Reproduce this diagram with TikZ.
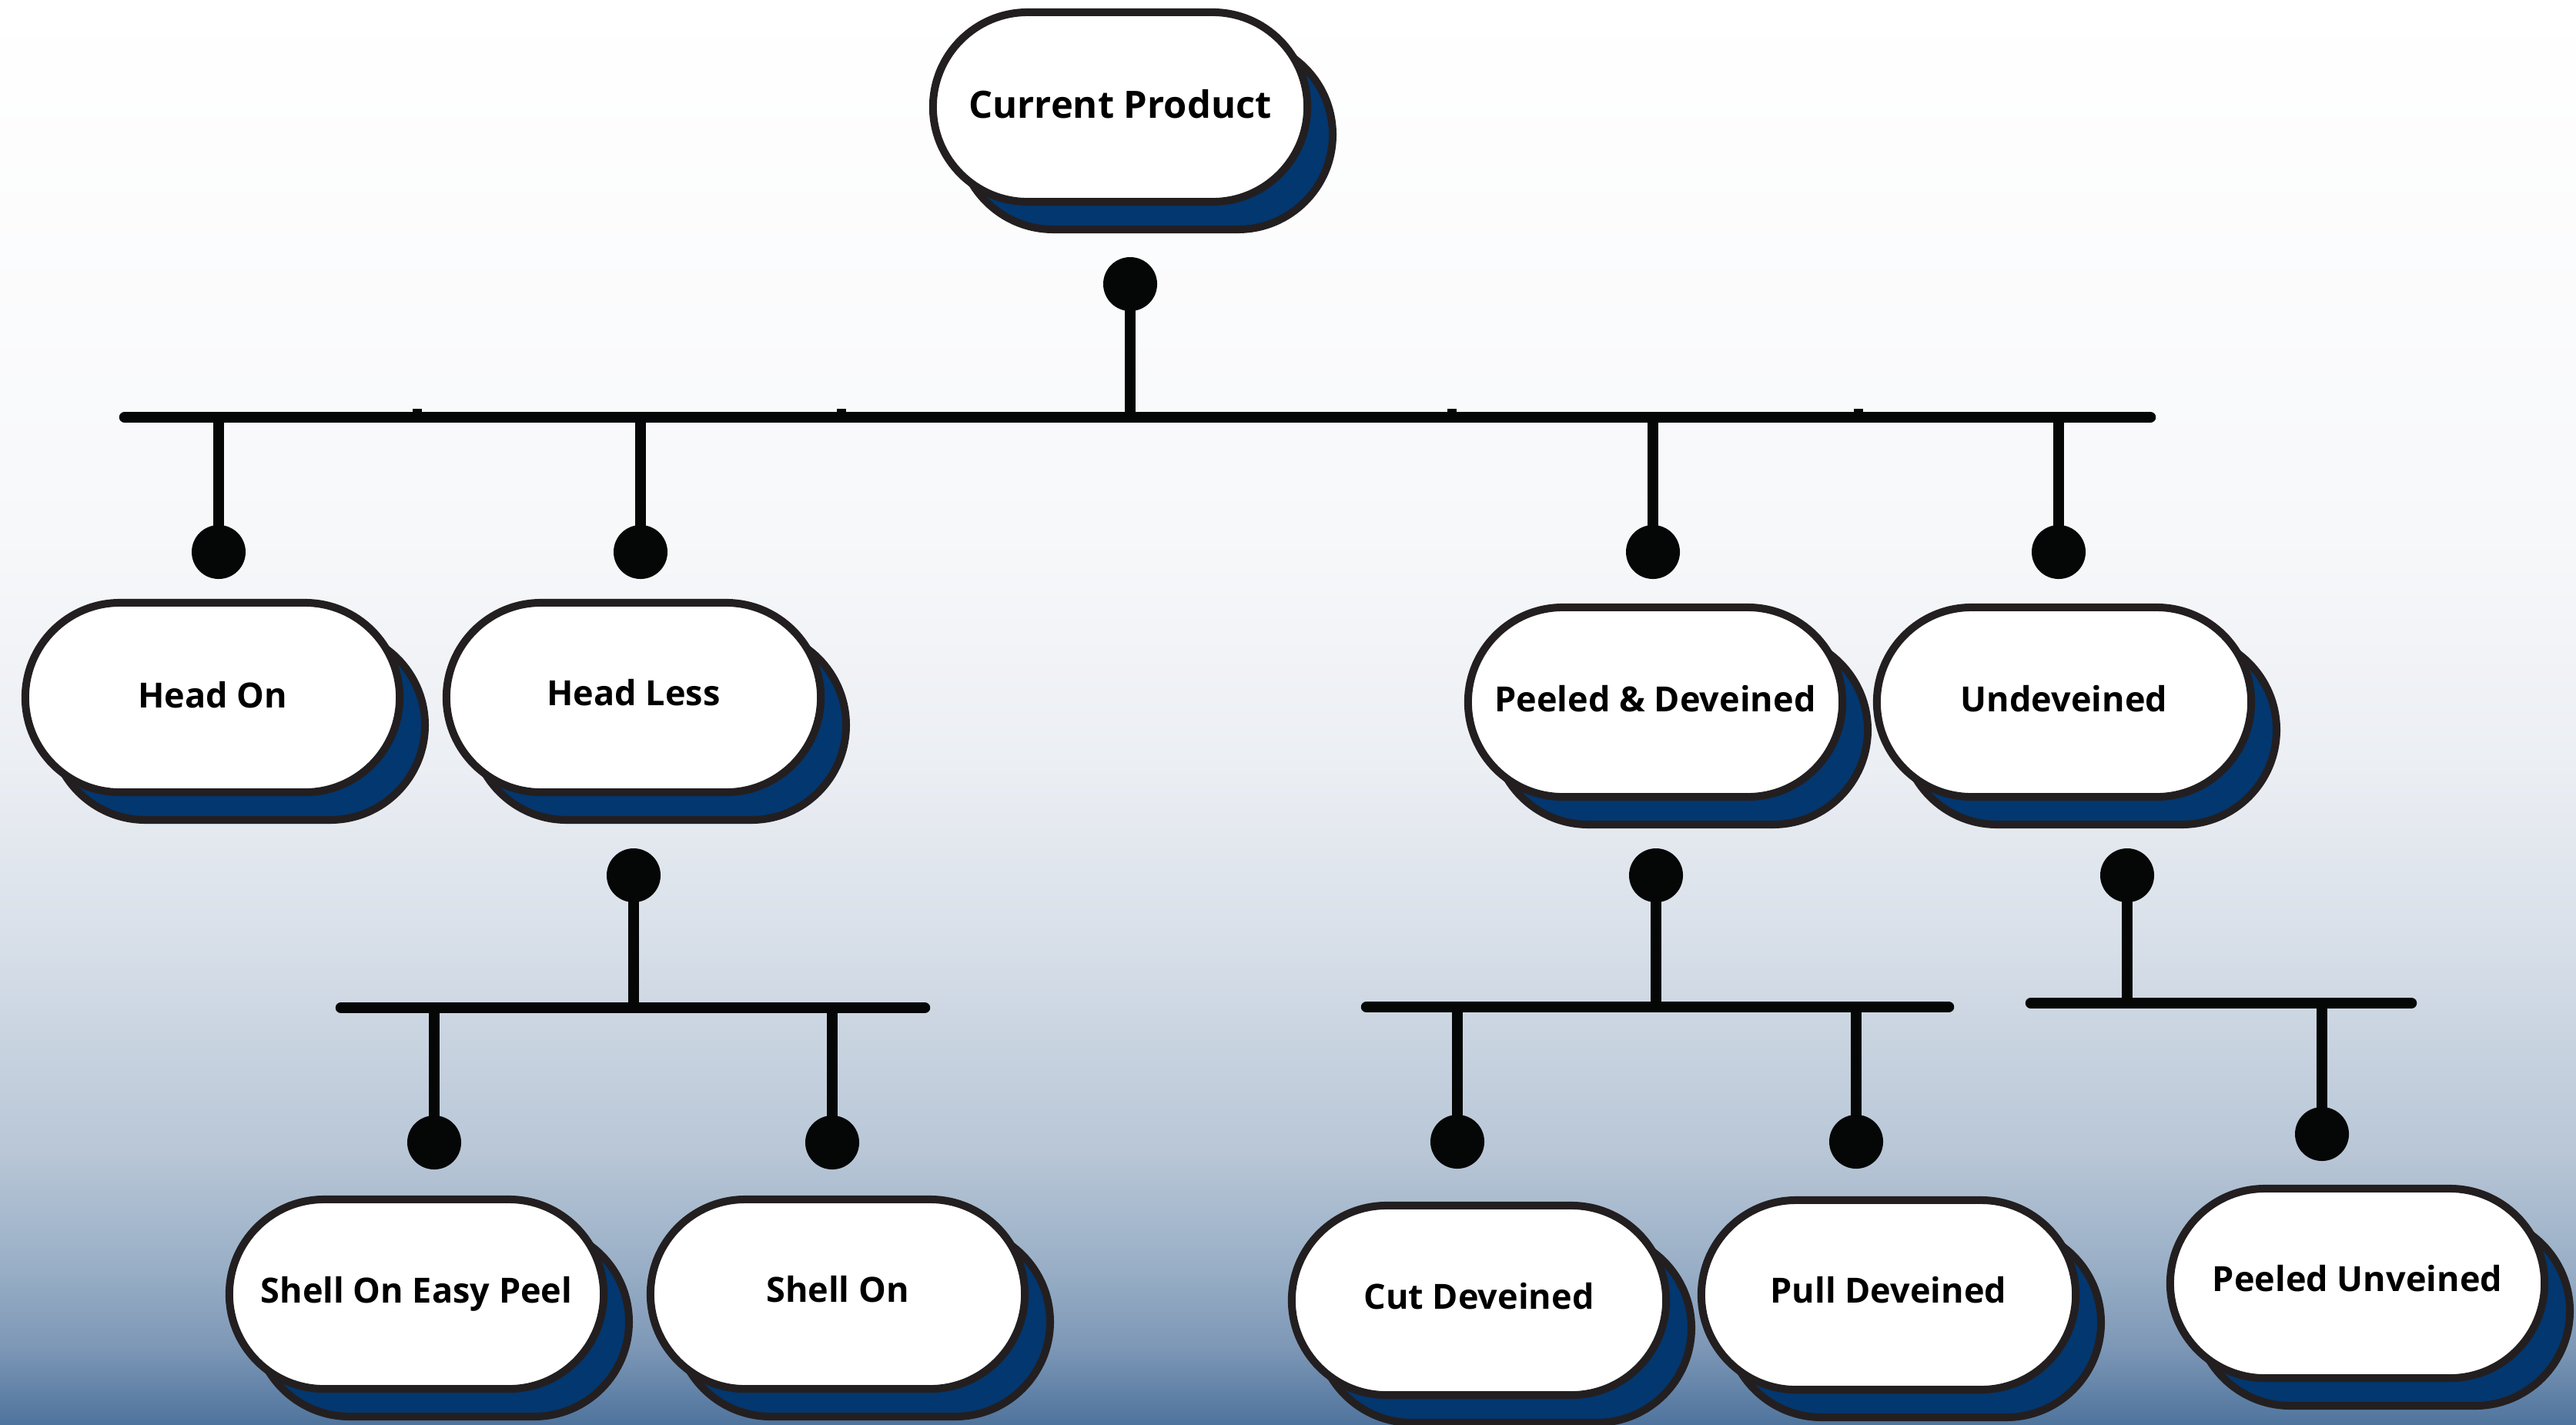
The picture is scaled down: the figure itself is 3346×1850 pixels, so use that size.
\documentclass[tikz,border=0pt]{standalone}
\usepackage{fontspec}
\setmainfont{Open Sans}
\definecolor{pillborder}{HTML}{231F20}
\definecolor{shadowblue}{HTML}{03376F}
\definecolor{linkblack}{HTML}{050706}
\definecolor{bgA}{HTML}{FFFFFF}
\definecolor{bgB}{HTML}{F7F8FA}
\definecolor{bgC}{HTML}{EBEEF3}
\definecolor{bgD}{HTML}{DAE1EA}
\definecolor{bgE}{HTML}{C3CFDD}
\definecolor{bgF}{HTML}{B8C6D6}
\definecolor{bgG}{HTML}{98AEC6}
\definecolor{bgH}{HTML}{7D97B6}
\definecolor{bgI}{HTML}{4F749D}
\tikzset{
  pill/.style={draw=pillborder, fill=white, line width=0.1cm, rounded corners=1.23cm,
    minimum width=4.86cm, minimum height=2.46cm, inner sep=0pt,
    font=\bfseries\fontsize{12.8pt}{15pt}\selectfont, text=black},
  bigpill/.style={pill, font=\bfseries\fontsize{13.9pt}{16pt}\selectfont},
  pillshadow/.style={draw=pillborder, fill=shadowblue, line width=0.1cm, rounded corners=1.23cm},
  dotnode/.style={circle, fill=linkblack, inner sep=0pt, minimum size=0.70cm},
  link/.style={draw=linkblack, line width=0.145cm},
  busbar/.style={draw=linkblack, line width=0.145cm, line cap=round},
}
% name, x, y, raise (cm), text, style
\newcommand\pillnode[6][pill]{%
  \path[pillshadow] (#3+33-243,#4+36-123) rectangle (#3+33+243,#4+36+123);
  \node[#1] (#2) at (#3,#4) {\raisebox{#5cm}{#6}};
}
\begin{document}
\begin{tikzpicture}[x=0.01cm, y=-0.01cm]
% background
\useasboundingbox (0,0) rectangle (3346,1850);
\fill[top color=bgA, bottom color=bgB] (0,0) rectangle (3346,701);
\fill[top color=bgB, bottom color=bgC] (0,700) rectangle (3346,1001);
\fill[top color=bgC, bottom color=bgD] (0,1000) rectangle (3346,1201);
\fill[top color=bgD, bottom color=bgE] (0,1200) rectangle (3346,1401);
\fill[top color=bgE, bottom color=bgF] (0,1400) rectangle (3346,1501);
\fill[top color=bgF, bottom color=bgG] (0,1500) rectangle (3346,1651);
\fill[top color=bgG, bottom color=bgH] (0,1650) rectangle (3346,1751);
\fill[top color=bgH, bottom color=bgI] (0,1750) rectangle (3346,1850);

% nodes
\pillnode[bigpill]{cur}{1455}{139}{0.08}{Current Product}
\pillnode{headon}{276}{906}{0.08}{Head On}
\pillnode{headless}{823}{906}{0.13}{Head Less}
\pillnode{peeled}{2150}{912}{0.10}{Peeled \& Deveined}
\pillnode{undev}{2681}{912}{0.10}{Undeveined}
\pillnode{easy}{541}{1681}{0.12}{Shell On Easy Peel}
\pillnode{shellon}{1088}{1681}{0.14}{Shell On}
\pillnode{cut}{1921}{1689}{0.12}{Cut Deveined}
\pillnode{pull}{2453}{1682}{0.14}{Pull Deveined}
\pillnode{unveined}{3062}{1667}{0.14}{Peeled Unveined}

% top level bus
\node[dotnode] (d0) at (1468,369) {};
\coordinate (b0) at (1468,542);
\coordinate (b0L) at (162,542);
\coordinate (b0R) at (2793,542);
\draw[busbar] (b0L) -- (b0R);
\draw[link] (d0.center) -- (b0);
\foreach \t in {542,1093,1886,2414}{\fill[linkblack] (\t-6,531) rectangle (\t+6,537);}
\foreach \n/\x in {headon/284, headless/832, peeled/2147, undev/2674}{
  \coordinate (j\n) at (\x,542);
  \node[dotnode] (t\n) at (\x,717) {};
  \draw[link] (j\n) -- (t\n.center);
}

% Head Less sub bus
\node[dotnode] (d1) at (823,1137) {};
\coordinate (b1) at (823,1309);
\coordinate (b1L) at (443,1309);
\coordinate (b1R) at (1201,1309);
\draw[busbar] (b1L) -- (b1R);
\draw[link] (d1.center) -- (b1);
\foreach \n/\x in {easy/564, shellon/1081}{
  \coordinate (j\n) at (\x,1309);
  \node[dotnode] (t\n) at (\x,1484) {};
  \draw[link] (j\n) -- (t\n.center);
}

% Peeled & Deveined sub bus
\node[dotnode] (d2) at (2151,1137) {};
\coordinate (b2) at (2151,1308);
\coordinate (b2L) at (1775,1308);
\coordinate (b2R) at (2531,1308);
\draw[busbar] (b2L) -- (b2R);
\draw[link] (d2.center) -- (b2);
\foreach \n/\x in {cut/1893, pull/2411}{
  \coordinate (j\n) at (\x,1308);
  \node[dotnode] (t\n) at (\x,1483) {};
  \draw[link] (j\n) -- (t\n.center);
}

% Undeveined sub bus
\node[dotnode] (d3) at (2763,1137) {};
\coordinate (b3) at (2763,1303);
\coordinate (b3L) at (2638,1303);
\coordinate (b3R) at (3132,1303);
\draw[busbar] (b3L) -- (b3R);
\draw[link] (d3.center) -- (b3);
\coordinate (junveined) at (3016,1303);
\node[dotnode] (tunveined) at (3016,1473) {};
\draw[link] (junveined) -- (tunveined.center);
\end{tikzpicture}
\end{document}
